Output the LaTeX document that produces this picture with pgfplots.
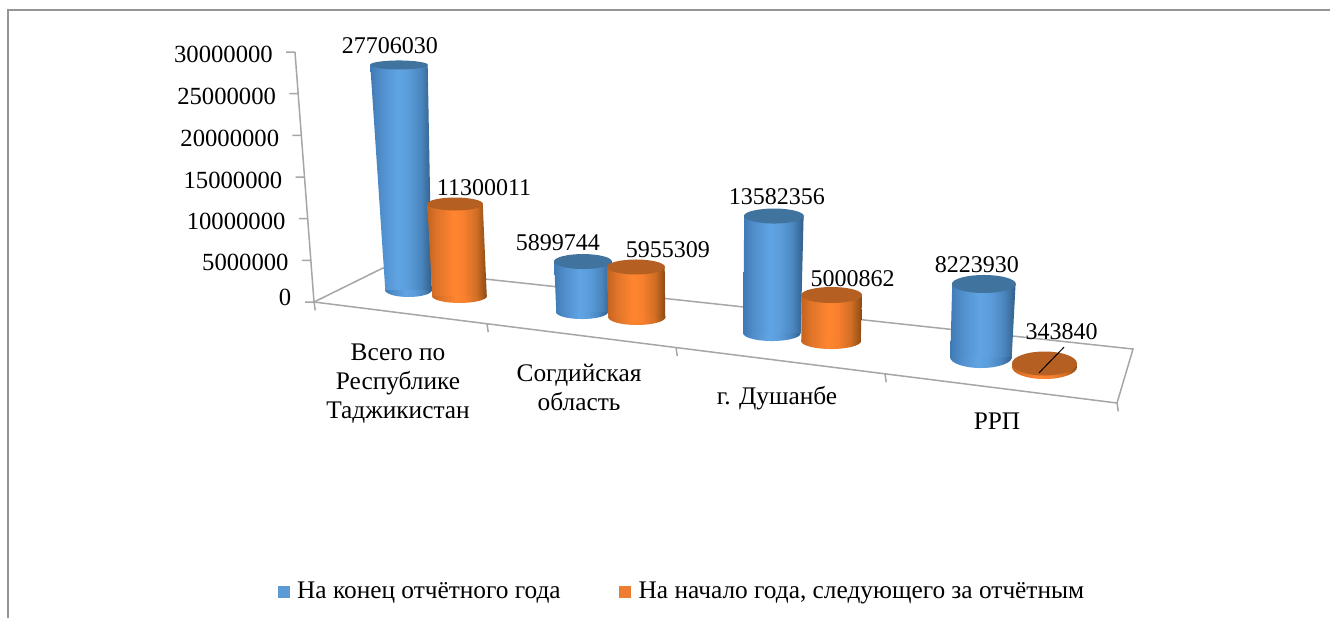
\documentclass[border=0pt]{standalone}
\usepackage{fontspec}
\setmainfont{Liberation Serif}
\usepackage{pgfplots}
\pgfplotsset{compat=1.18}
\usetikzlibrary{shapes.geometric}
\definecolor{Bc}{HTML}{41739F}
\definecolor{Oc}{HTML}{B65F22}
\definecolor{Bleg}{HTML}{5B9BD5}
\definecolor{Oleg}{HTML}{ED7D31}
\definecolor{gridgrey}{HTML}{A6A6A6}
\definecolor{B1}{HTML}{3F7AB5}\definecolor{B2}{HTML}{4F8DCA}\definecolor{B3}{HTML}{60A4E4}
\definecolor{B4}{HTML}{5C9EDC}\definecolor{B5}{HTML}{4A86BF}\definecolor{B6}{HTML}{3A6C9B}\definecolor{B7}{HTML}{2F5C88}
\definecolor{O1}{HTML}{C4641E}\definecolor{O2}{HTML}{E0742A}\definecolor{O3}{HTML}{FF8530}
\definecolor{O4}{HTML}{F8802E}\definecolor{O5}{HTML}{D26E24}\definecolor{O6}{HTML}{A25719}\definecolor{O7}{HTML}{8A4916}
\pgfdeclarehorizontalshading{Bcyl}{100bp}{color(0bp)=(B1);color(25bp)=(B1);color(33bp)=(B2);color(47bp)=(B3);color(55bp)=(B4);color(66bp)=(B5);color(72bp)=(B6);color(75bp)=(B7);color(100bp)=(B7)}
\pgfdeclarehorizontalshading{Ocyl}{100bp}{color(0bp)=(O1);color(25bp)=(O1);color(33bp)=(O2);color(47bp)=(O3);color(55bp)=(O4);color(66bp)=(O5);color(72bp)=(O6);color(75bp)=(O7);color(100bp)=(O7)}
\tikzset{Bshade/.style={shade,shading=Bcyl},Oshade/.style={shade,shading=Ocyl}}
\def\px{0.75pt}
% bottom cap: colour, depth, x centre, width, height
\newcommand\bcap[5]{\addplot3[forget plot,mark=none,draw=none,nodes near coords={\,},
  every node near coord/.style={shape=ellipse,draw=none,inner sep=0pt,anchor=center,#1shade,minimum width=#4*\px,minimum height=#5*\px}]
  coordinates {(#3,#2,0)};}
% body: colour, depth, xLbase, xRbase, xLtop, xRtop, value, factor, x centre
\newcommand\cbody[9]{\addplot3[forget plot,mark=none,draw=none,#1shade,
  z filter/.expression={z*#8+0.0151*(x-#9)}]
  coordinates {(#3,#2,0) (#4,#2,0) (#6,#2,#7) (#5,#2,#7)} --cycle;}
% top cap: colour, depth, x top centre, value, factor, x centre, width, height
\newcommand\tcap[8]{\addplot3[forget plot,mark=none,draw=none,nodes near coords={\,},
  z filter/.expression={z*#5+0.0151*(x-#6)},
  every node near coord/.style={shape=ellipse,draw=none,inner sep=0pt,anchor=center,fill=#1c,minimum width=#7*\px,minimum height=#8*\px}]
  coordinates {(#3,#2,#4)};}
% data label: depth, x top centre, value, factor, x centre, text, dx, dy
\newcommand\dlab[8]{\addplot3[forget plot,mark=none,draw=none,nodes near coords={#6},
  z filter/.expression={z*#4+0.0151*(x-#5)},
  every node near coord/.style={anchor=center,inner sep=0pt,text=black,font=\fontsize{18pt}{20pt}\selectfont,xshift=#7*\px,yshift=#8*\px}]
  coordinates {(#2,#1,#3)};}
\begin{document}
\begin{tikzpicture}
\path[use as bounding box] (0,0) rectangle (997.5pt,463.5pt);
\draw[gridgrey!90!black,line width=1.5*\px] (6pt,0) -- (6pt,456pt) -- (997.5pt,456pt);
\begin{axis}[
  at={(235.5pt,237pt)},anchor=origin,
  x={(0.75pt,-0.09435pt)},y={(51.75pt,25.5pt)},z={(-0.475pt,6.2475pt)},
  xmin=0,xmax=803,ymin=0,ymax=1,zmin=0,zmax=30,
  clip=false,clip mode=individual,
  axis lines=left,
  axis line style={gridgrey,line width=1.5*\px,-},
  y axis line style={draw=none},
  major tick style={draw=none},
  tick align=outside,major tick length=8*\px,
  xtick={0,173,362,571,803},xticklabels={},
  ytick=\empty,
  ztick={0,5,...,30},
  zticklabels={\raisebox{-3.5pt}{0},5000000,10000000,15000000,20000000,25000000,\raisebox{1.5pt}{30000000}},
  z tick label style={font=\fontsize{18.5pt}{20pt}\selectfont,xshift=-11*\px,yshift=9.5*\px},
  legend style={at={(axis cs:349.3,0,-29.5)},anchor=center,draw=none,fill=none,
    legend columns=2,font=\fontsize{19pt}{20pt}\selectfont,
    nodes={inner xsep=1.5pt},
    /tikz/every even column/.append style={column sep=42.5pt}},
  legend cell align=left,
  legend image code/.code={\fill[draw=none,#1] (0pt,-4.5pt) rectangle (9pt,4.5pt);\path[draw=none,fill=none] (0pt,0pt) -- (13pt,0pt);},
]
\addlegendimage{draw=none,fill=Bleg}\addlegendentry{На конец отчётного года}
\addlegendimage{draw=none,fill=Oleg}\addlegendentry{На начало года, следующего за отчётным}
% floor
\addplot3[forget plot,mark=none,gridgrey,line width=1.5*\px] coordinates {(0,0,0) (0,1,0) (728.5,1.312,0) (803,0,0)};
% axis ticks
\pgfplotsinvokeforeach{0,5,...,30}{\addplot3[forget plot,mark=none,gridgrey,line width=1.5*\px] coordinates {(0,0,#1) (-9,0,{#1-0.136})};}
\pgfplotsinvokeforeach{0,173,362,571,803}{\addplot3[forget plot,mark=none,gridgrey,line width=1.5*\px] coordinates {(#1,0,0) (#1+0.6,0,-1)};}
% group 1
\bcap{B}{.56}{55.9}{47}{14}
\cbody{B}{.56}{32.4}{79.4}{34.5}{92.5}{27.70603}{.975}{55.9}
\tcap{B}{.56}{63.5}{27.70603}{.975}{55.9}{58}{9}
\bcap{O}{.57}{106.2}{55}{14}
\cbody{O}{.57}{78.7}{133.7}{80.7}{136.7}{11.300011}{.977}{106.2}
\tcap{O}{.57}{108.7}{11.300011}{.977}{106.2}{56}{13}
% group 2
\bcap{B}{.555}{229.7}{52}{14}
\cbody{B}{.555}{203.7}{255.7}{205.5}{263.5}{5.899744}{1.027}{229.7}
\tcap{B}{.555}{234.5}{5.899744}{1.027}{229.7}{58}{15}
\bcap{O}{.60}{281.4}{57.5}{16}
\cbody{O}{.60}{252.6}{310.1}{255.4}{313.4}{5.955309}{1.008}{281.4}
\tcap{O}{.60}{284.4}{5.955309}{1.008}{281.4}{58}{15}
% group 3
\bcap{B}{.623}{415}{58}{16}
\cbody{B}{.623}{386}{444}{395.9}{455.9}{13.582356}{1.034}{415}
\tcap{B}{.623}{425.9}{13.582356}{1.034}{415}{60}{15}
\bcap{O}{.61}{475}{60}{16}
\cbody{O}{.61}{445}{505}{448.5}{509.5}{5.000862}{1.104}{475}
\tcap{O}{.61}{479}{5.000862}{1.104}{475}{61}{16}
% group 4
\bcap{B}{.677}{620.3}{62}{22}
\cbody{B}{.677}{589.3}{651.3}{596.8}{660.8}{8.22393}{1.066}{620.3}
\tcap{B}{.677}{628.8}{8.22393}{1.066}{620.3}{64}{18}
\bcap{O}{.63}{687}{65}{24}
\cbody{O}{.63}{654.5}{719.5}{654.8}{719.8}{.34384}{1.22}{687}
\tcap{O}{.63}{687.3}{.34384}{1.22}{687}{65}{24}
% leader line
\addplot3[forget plot,mark=none,black,line width=0.75pt] coordinates {(681,.63,-.8) (708.2,.63,2.7)};
% data labels
\dlab{.56}{63.5}{27.70603}{.975}{55.9}{27706030}{-9}{19}
\dlab{.57}{108.7}{11.300011}{.977}{106.2}{11300011}{29}{16}
\dlab{.555}{234.5}{5.899744}{1.027}{229.7}{5899744}{-25}{18.5}
\dlab{.60}{284.4}{5.955309}{1.008}{281.4}{5955309}{32}{17}
\dlab{.623}{425.9}{13.582356}{1.034}{415}{13582356}{3}{19}
\dlab{.61}{479}{5.000862}{1.104}{475}{5000862}{21}{16}
\dlab{.677}{628.8}{8.22393}{1.066}{620.3}{8223930}{-7}{19}
\dlab{.63}{687.3}{.34384}{1.22}{687}{343840}{17}{32}
\end{axis}
\tikzset{cat/.style={align=center,font=\fontsize{19pt}{21.75pt}\selectfont,inner sep=0pt}}
\node[cat] at (298.5pt,175.75pt) {Всего по\\Республике\\Таджикистан};
\node[cat] at (434.25pt,173.25pt) {Согдийская\\область};
\node[cat] at (582.75pt,165pt) {г. Душанбе};
\node[cat] at (747.75pt,147.75pt) {РРП};
\end{tikzpicture}
\end{document}
